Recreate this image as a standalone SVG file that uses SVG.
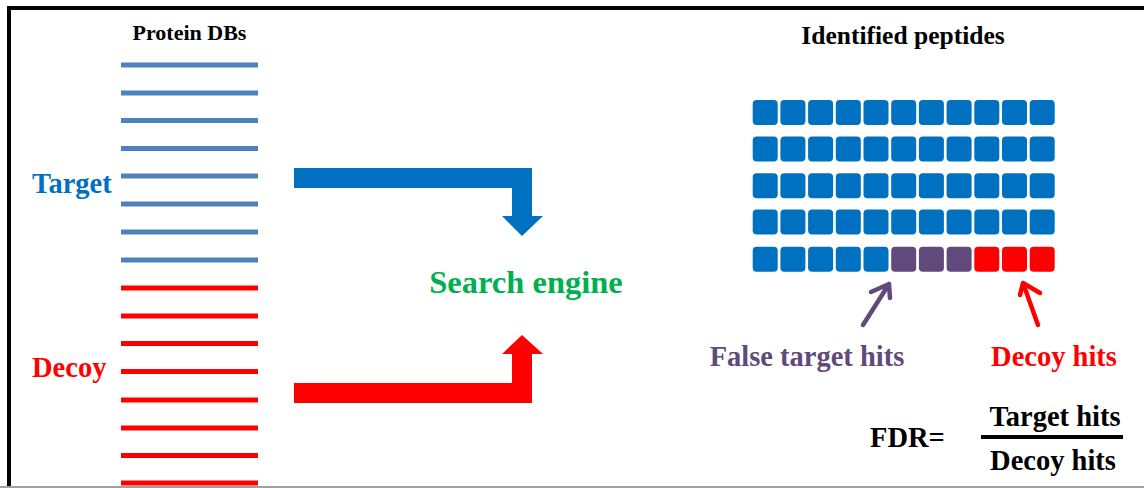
<svg xmlns="http://www.w3.org/2000/svg" width="1144" height="488" viewBox="0 0 1144 488">
  <style>
    text { font-family: "Liberation Serif", "Times New Roman", serif; font-weight: bold; }
    .db-t { stroke: #4F81BD; stroke-width: 5; }
    .db-d { stroke: #FF0000; stroke-width: 5; }
    .cell-b { fill: #0070C0; }
    .cell-p { fill: #604A7B; }
    .cell-r { fill: #FF0000; }
  </style>
  <defs>
    <rect id="cell" width="25" height="25" rx="4" ry="4"/>
  </defs>

  <rect x="0" y="0" width="1144" height="488" fill="#FFFFFF"/>

  <!-- frame -->
  <g id="frame">
    <line x1="9" y1="8" x2="1144" y2="8" stroke="#000" stroke-width="4"/>
    <line x1="9" y1="6" x2="9" y2="488" stroke="#000" stroke-width="4"/>
    <line x1="0" y1="487" x2="1144" y2="487" stroke="#A0A0A0" stroke-width="2"/>
  </g>

  <!-- protein databases -->
  <g id="protein-dbs">
    <text x="189.5" y="40" font-size="22" text-anchor="middle" fill="#000">Protein DBs</text>
    <g id="target-db">
      <line class="db-t" x1="121" y1="65" x2="258" y2="65"/>
      <line class="db-t" x1="121" y1="93" x2="258" y2="93"/>
      <line class="db-t" x1="121" y1="120.5" x2="258" y2="120.5"/>
      <line class="db-t" x1="121" y1="148.5" x2="258" y2="148.5"/>
      <line class="db-t" x1="121" y1="176" x2="258" y2="176"/>
      <line class="db-t" x1="121" y1="204" x2="258" y2="204"/>
      <line class="db-t" x1="121" y1="232" x2="258" y2="232"/>
      <line class="db-t" x1="121" y1="260" x2="258" y2="260"/>
      <text x="32" y="193" font-size="28.5" fill="#0070C0">Target</text>
    </g>
    <g id="decoy-db">
      <line class="db-d" x1="121" y1="288" x2="258" y2="288"/>
      <line class="db-d" x1="121" y1="316" x2="258" y2="316"/>
      <line class="db-d" x1="121" y1="343.5" x2="258" y2="343.5"/>
      <line class="db-d" x1="121" y1="371.5" x2="258" y2="371.5"/>
      <line class="db-d" x1="121" y1="400" x2="258" y2="400"/>
      <line class="db-d" x1="121" y1="428" x2="258" y2="428"/>
      <line class="db-d" x1="121" y1="455.5" x2="258" y2="455.5"/>
      <line class="db-d" x1="121" y1="483" x2="258" y2="483"/>
      <text x="32" y="377" font-size="28.5" fill="#FF0000">Decoy</text>
    </g>
  </g>

  <!-- search engine -->
  <g id="search-engine">
    <text x="526" y="293" font-size="32.5" text-anchor="middle" fill="#00B050">Search engine</text>
  </g>

  <!-- flow arrows into the search engine, and pointers to the hit cells -->
  <g id="connectors">
    <path d="M294 168 H532 V216 H543 L522 236 L502 216 H512 V188 H294 Z" fill="#0070C0"/>
    <path d="M294 403 H532 V354 H543 L522 335 L502 354 H512 V383 H294 Z" fill="#FF0000"/>
    <g fill="none" stroke-width="4.5" stroke-linecap="round" stroke-linejoin="round">
      <path d="M863 325 L889 284 M871 292 L889 284 L890 298" stroke="#604A7B"/>
      <path d="M1038 325 L1023 283 M1020 295 L1023 283 L1040 293" stroke="#FF0000"/>
    </g>
  </g>

  <!-- identified peptides grid -->
  <g id="identified-peptides">
    <text x="903" y="44" font-size="25.5" text-anchor="middle" fill="#000">Identified peptides</text>
    <g id="row1" class="cell-b">
      <use href="#cell" x="752.7" y="100"/><use href="#cell" x="780.4" y="100"/><use href="#cell" x="808.1" y="100"/><use href="#cell" x="835.8" y="100"/><use href="#cell" x="863.5" y="100"/><use href="#cell" x="891.2" y="100"/><use href="#cell" x="918.9" y="100"/><use href="#cell" x="946.6" y="100"/><use href="#cell" x="974.3" y="100"/><use href="#cell" x="1002" y="100"/><use href="#cell" x="1029.7" y="100"/>
    </g>
    <g id="row2" class="cell-b">
      <use href="#cell" x="752.7" y="136.5"/><use href="#cell" x="780.4" y="136.5"/><use href="#cell" x="808.1" y="136.5"/><use href="#cell" x="835.8" y="136.5"/><use href="#cell" x="863.5" y="136.5"/><use href="#cell" x="891.2" y="136.5"/><use href="#cell" x="918.9" y="136.5"/><use href="#cell" x="946.6" y="136.5"/><use href="#cell" x="974.3" y="136.5"/><use href="#cell" x="1002" y="136.5"/><use href="#cell" x="1029.7" y="136.5"/>
    </g>
    <g id="row3" class="cell-b">
      <use href="#cell" x="752.7" y="173.3"/><use href="#cell" x="780.4" y="173.3"/><use href="#cell" x="808.1" y="173.3"/><use href="#cell" x="835.8" y="173.3"/><use href="#cell" x="863.5" y="173.3"/><use href="#cell" x="891.2" y="173.3"/><use href="#cell" x="918.9" y="173.3"/><use href="#cell" x="946.6" y="173.3"/><use href="#cell" x="974.3" y="173.3"/><use href="#cell" x="1002" y="173.3"/><use href="#cell" x="1029.7" y="173.3"/>
    </g>
    <g id="row4" class="cell-b">
      <use href="#cell" x="752.7" y="209.5"/><use href="#cell" x="780.4" y="209.5"/><use href="#cell" x="808.1" y="209.5"/><use href="#cell" x="835.8" y="209.5"/><use href="#cell" x="863.5" y="209.5"/><use href="#cell" x="891.2" y="209.5"/><use href="#cell" x="918.9" y="209.5"/><use href="#cell" x="946.6" y="209.5"/><use href="#cell" x="974.3" y="209.5"/><use href="#cell" x="1002" y="209.5"/><use href="#cell" x="1029.7" y="209.5"/>
    </g>
    <g id="row5">
      <g class="cell-b">
        <use href="#cell" x="752.7" y="246.7"/><use href="#cell" x="780.4" y="246.7"/><use href="#cell" x="808.1" y="246.7"/><use href="#cell" x="835.8" y="246.7"/><use href="#cell" x="863.5" y="246.7"/>
      </g>
      <g class="cell-p">
        <use href="#cell" x="891.2" y="246.7"/><use href="#cell" x="918.9" y="246.7"/><use href="#cell" x="946.6" y="246.7"/>
      </g>
      <g class="cell-r">
        <use href="#cell" x="974.3" y="246.7"/><use href="#cell" x="1002" y="246.7"/><use href="#cell" x="1029.7" y="246.7"/>
      </g>
    </g>
  </g>

  <!-- hit labels -->
  <g id="false-target-hits">
    <text x="807" y="366" font-size="28.5" text-anchor="middle" fill="#604A7B">False target hits</text>
  </g>
  <g id="decoy-hits">
    <text x="1054" y="366" font-size="28.5" text-anchor="middle" fill="#FF0000">Decoy hits</text>
  </g>

  <!-- FDR formula -->
  <g id="fdr">
    <text x="870" y="447" font-size="28.5" fill="#000">FDR=</text>
    <text x="1055" y="426" font-size="28.5" text-anchor="middle" fill="#000">Target hits</text>
    <line x1="981" y1="437" x2="1123" y2="437" stroke="#000" stroke-width="4"/>
    <text x="1053" y="470" font-size="28.5" text-anchor="middle" fill="#000">Decoy hits</text>
  </g>
</svg>
